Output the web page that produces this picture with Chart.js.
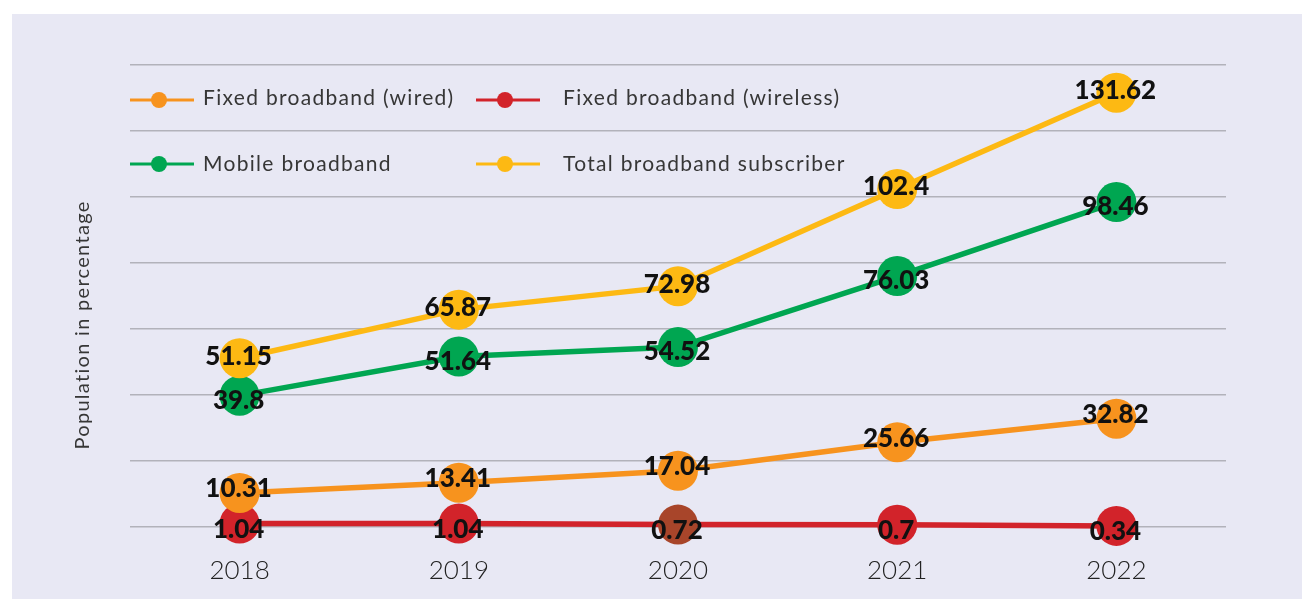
<!DOCTYPE html>
<html>
<head>
<meta charset="utf-8">
<script src="https://cdn.jsdelivr.net/npm/chart.js@4.4.1/dist/chart.umd.min.js"></script>
<style>
  html, body { margin: 0; padding: 0; background: #ffffff; overflow: hidden; }
  #wrap { position: relative; width: 1302px; height: 599px; }
</style>
</head>
<body>
<div id="wrap"><canvas id="c"></canvas></div>
<script>
const years = ['2018', '2019', '2020', '2021', '2022'];
const fixedWired = [10.31, 13.41, 17.04, 25.66, 32.82];
const fixedWireless = [1.04, 1.04, 0.72, 0.7, 0.34];
const mobile = [39.8, 51.64, 54.52, 76.03, 98.46];
const total = [51.15, 65.87, 72.98, 102.4, 131.62];
const seriesNames = ['Fixed broadband (wired)', 'Fixed broadband (wireless)', 'Mobile broadband', 'Total broadband subscriber'];
const yTitle = 'Population in percentage';

const ORANGE = '#f7931e', RED = '#d2232a', GREEN = '#00a651', YELLOW = '#fdb913', BROWN = '#a8452a';

function ds(label, data, color, pointColors, labelOffset) {
  return {
    label, data,
    borderColor: color,
    backgroundColor: pointColors || color,
    pointBackgroundColor: pointColors || color,
    pointBorderWidth: 0,
    pointRadius: 20,
    pointHoverRadius: 20,
    borderWidth: 5.5,
    tension: 0,
    clip: false,
    labelOffset
  };
}

const panelBg = {
  id: 'panelBg',
  beforeDraw(chart) {
    const ctx = chart.ctx;
    ctx.save();
    ctx.fillStyle = '#ffffff';
    ctx.fillRect(0, 0, chart.width, chart.height);
    ctx.fillStyle = '#e8e8f4';
    ctx.fillRect(12, 14, chart.width - 12, chart.height - 14);
    ctx.restore();
  }
};

const valueLabels = {
  id: 'valueLabels',
  afterDatasetsDraw(chart) {
    const ctx = chart.ctx;
    ctx.save();
    ctx.font = '900 26px Lato, "Liberation Sans", sans-serif';
    ctx.fillStyle = '#111111';
    ctx.textAlign = 'center';
    ctx.textBaseline = 'middle';
    chart.data.datasets.forEach((d, i) => {
      const meta = chart.getDatasetMeta(i);
      meta.data.forEach((pt, j) => {
        ctx.fillText(String(d.data[j]), pt.x - 1, pt.y + (d.labelOffset || 0));
      });
    });
    ctx.restore();
  }
};

const customLegend = {
  id: 'customLegend',
  afterDraw(chart) {
    const ctx = chart.ctx;
    const items = [
      { x: 130, y: 100, ty: 98, color: ORANGE, text: seriesNames[0] },
      { x: 476, y: 100, ty: 98, color: RED, text: seriesNames[1] },
      { x: 130, y: 164, ty: 164, color: GREEN, text: seriesNames[2] },
      { x: 476, y: 164, ty: 164, color: YELLOW, text: seriesNames[3] }
    ];
    ctx.save();
    items.forEach((it, k) => {
      ctx.strokeStyle = it.color;
      ctx.lineWidth = 3;
      ctx.beginPath();
      ctx.moveTo(it.x, it.y);
      ctx.lineTo(it.x + 64, it.y);
      ctx.stroke();
      ctx.fillStyle = it.color;
      ctx.beginPath();
      ctx.arc(it.x + 29, it.y, 8, 0, Math.PI * 2);
      ctx.fill();
      ctx.fillStyle = '#363636';
      ctx.font = '400 21px Lato, "Open Sans", sans-serif';
      ctx.letterSpacing = '1.3px';
      ctx.textAlign = 'left';
      ctx.textBaseline = 'middle';
      ctx.fillText(it.text, (k % 2 === 0) ? 203 : 563, it.ty);
    });
    // y axis title
    ctx.translate(83, 325);
    ctx.rotate(-Math.PI / 2);
    ctx.fillStyle = '#363636';
    ctx.font = '400 20px Lato, "Open Sans", sans-serif';
    ctx.letterSpacing = '1.3px';
    ctx.textAlign = 'center';
    ctx.textBaseline = 'middle';
    ctx.fillText(yTitle, 0, 0);
    ctx.restore();
  }
};

new Chart(document.getElementById('c'), {
  type: 'line',
  data: {
    labels: years,
    datasets: [
      ds(seriesNames[3], total, YELLOW, null, -2),
      ds(seriesNames[2], mobile, GREEN, null, 5),
      ds(seriesNames[0], fixedWired, ORANGE, null, -4),
      ds(seriesNames[1], fixedWireless, RED, [RED, RED, BROWN, RED, RED], 6)
    ]
  },
  options: {
    responsive: true,
    maintainAspectRatio: false,
    animation: false,
    events: [],
    layout: { padding: { top: 65, right: 76, left: 0, bottom: 0 } },
    plugins: { legend: { display: false }, tooltip: { enabled: false } },
    scales: {
      x: {
        offset: true,
        grid: { display: false, drawTicks: false },
        border: { display: false },
        ticks: { color: '#222222', font: { family: 'Lato, "Open Sans", sans-serif', size: 26, weight: '300' }, padding: 28 },
        afterFit(scale) { scale.height = 72; }
      },
      y: {
        min: 0, max: 140,
        ticks: { display: false, stepSize: 20 },
        grid: { color: '#b2b2ba', lineWidth: 1.5, drawTicks: false },
        border: { display: false },
        afterFit(scale) { scale.width = 130; }
      }
    }
  },
  plugins: [panelBg, valueLabels, customLegend]
});
</script>
</body>
</html>
